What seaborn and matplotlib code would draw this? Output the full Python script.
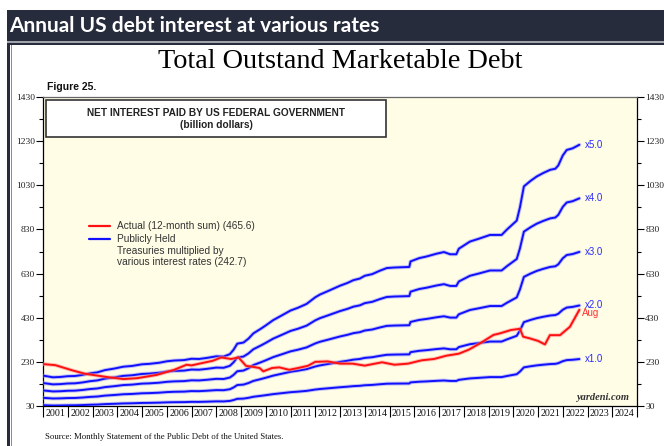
import numpy as np
import pandas as pd
import matplotlib
matplotlib.use("Agg")
import matplotlib.pyplot as plt
import matplotlib.patches as mpatches
import matplotlib.patheffects as pe
import seaborn as sns

# ---------------- data ----------------
base_years = [2001.0, 2001.2, 2001.4, 2001.7, 2002.0, 2002.3, 2002.6, 2002.9, 2003.2, 2003.5,
              2003.9, 2004.24, 2004.6, 2005.0, 2005.3, 2005.7, 2006.0, 2006.3, 2006.7, 2007.0,
              2007.3, 2007.6, 2008.0, 2008.3, 2008.55, 2008.7, 2008.85, 2009.1, 2009.3, 2009.5,
              2009.8, 2010.0, 2010.3, 2010.6, 2011.0, 2011.3, 2011.65, 2012.0, 2012.19, 2012.5,
              2013.0, 2013.3, 2013.54, 2013.8, 2014.0, 2014.3, 2014.6, 2014.89, 2015.2, 2015.8,
              2015.85, 2016.2, 2016.5, 2016.9, 2017.2, 2017.45, 2017.7, 2017.8, 2018.25, 2018.6,
              2019.06, 2019.53, 2019.75, 2020.14, 2020.27, 2020.43, 2020.7, 2020.95, 2021.2, 2021.49,
              2021.7, 2021.82, 2022.0, 2022.16, 2022.4, 2022.67]
base_values = [33.5, 32.8, 32.0, 32.3, 33.0, 33.2, 34.2, 35.6, 36.5, 38.5,
               40.0, 41.6, 42.3, 43.8, 44.2, 45.2, 46.5, 47.2, 47.6, 48.8,
               48.6, 49.5, 51.0, 50.8, 53.0, 57.0, 62.5, 63.5, 67.0, 71.8,
               76.0, 79.0, 83.8, 87.5, 92.5, 95.0, 98.5, 104.5, 107.0, 110.0,
               115.0, 117.5, 120.0, 121.5, 124.0, 125.5, 128.5, 131.0, 131.5, 132.0,
               137.0, 140.0, 141.5, 144.0, 145.5, 143.5, 143.5, 148.5, 155.0, 157.5,
               161.0, 161.0, 166.0, 174.0, 186.0, 205.0, 210.0, 214.0, 217.0, 220.0,
               221.0, 224.0, 233.0, 238.0, 239.5, 242.7]
multipliers = [1.0, 2.0, 3.0, 4.0, 5.0]
multiplier_labels = ["x1.0", "x2.0", "x3.0", "x4.0", "x5.0"]

actual_years = [2001.0, 2001.5, 2002.2, 2002.7, 2003.6, 2004.25, 2004.8, 2005.6, 2006.3, 2006.8,
                2007.0, 2007.86, 2008.2, 2008.6, 2008.9, 2009.2, 2009.45, 2009.75, 2009.9, 2010.25,
                2010.55, 2010.8, 2010.95, 2011.3, 2011.7, 2012.0, 2012.5, 2013.0, 2013.5, 2014.0,
                2014.7, 2015.2, 2015.75, 2016.3, 2016.8, 2017.3, 2017.8, 2018.2, 2018.66, 2019.2,
                2019.46, 2019.9, 2020.27, 2020.4, 2020.68, 2021.0, 2021.28, 2021.48, 2021.89, 2022.29,
                2022.67]
actual_values = [220, 215, 191, 176, 161, 152, 156, 171, 194, 217,
                 214, 235, 250, 243, 250, 212, 208, 202, 187, 202,
                 205, 198, 194, 202, 212, 230, 232, 222, 222, 213,
                 228, 217, 222, 237, 243, 258, 267, 285, 314, 352,
                 359, 374, 380, 344, 336, 325, 309, 351, 351, 389,
                 465.6]

year_ticks = list(range(2001, 2026))
year_labels = [str(y) for y in range(2001, 2025)]
y_ticks = list(range(30, 1431, 200))

# ---------------- frame ----------------
sns.set_theme(style="white")
plt.rcParams['font.family'] = ['Liberation Sans', 'DejaVu Sans']

W, H = 664, 446
fig = plt.figure(figsize=(W / 100, H / 100), dpi=100)
fig.patch.set_facecolor("white")

def fx(px):
    return px / W

def fy(py):
    return 1 - py / H

navy = "#272c3d"
# header band
fig.patches.append(mpatches.Rectangle((fx(7), fy(41)), fx(W - 7), 31 / H, transform=fig.transFigure,
                                      facecolor=navy, edgecolor="none", zorder=0))
fig.patches.append(mpatches.Rectangle((fx(7), fy(43)), fx(W - 7), 2 / H, transform=fig.transFigure,
                                      facecolor="#a0a3aa", edgecolor="none", zorder=0))
fig.patches.append(mpatches.Rectangle((fx(7), fy(44.5)), fx(W - 7), 1.5 / H, transform=fig.transFigure,
                                      facecolor=navy, edgecolor="none", zorder=0))
fig.patches.append(mpatches.Rectangle((fx(7), 0), fx(3.5), fy(43), transform=fig.transFigure,
                                      facecolor=navy, edgecolor="none", zorder=0))
fig.patches.append(mpatches.Rectangle((fx(10.5), 0), fx(1.5), fy(44.5), transform=fig.transFigure,
                                      facecolor="#8a8d96", edgecolor="none", zorder=0))

fig.text(fx(9), fy(25.5), "Annual US debt interest at various rates", color="white",
         fontsize=15, fontweight="bold", family=["Lato", "DejaVu Sans"], va="center", ha="left")

fig.text(fx(340), fy(62), "Total Outstand Marketable Debt", color="black", fontsize=20.3,
         family=["Liberation Serif", "DejaVu Serif"], va="center", ha="center")
fig.text(fx(47), fy(87), "Figure 25.", color="#111111", fontsize=7.5, fontweight="bold",
         va="center", ha="left")
fig.text(fx(45), fy(437), "Source: Monthly Statement of the Public Debt of the United States.",
         color="#111111", fontsize=6.3, family=["Liberation Serif", "DejaVu Serif"], va="center", ha="left")

# ---------------- axes ----------------
ax = fig.add_axes([fx(43), 1 - 406 / H, fx(637 - 43), 309 / H])
ax.set_facecolor("#fffde6")

rows = []
for m, lab in zip(multipliers, multiplier_labels):
    for yr, v in zip(base_years, base_values):
        rows.append({"year": yr, "value": v * m, "series": lab})
df_blue = pd.DataFrame(rows)
df_red = pd.DataFrame({"year": actual_years, "value": actual_values})

glow_blue = [pe.Stroke(linewidth=2.8, foreground="#8a8aff", alpha=0.5), pe.Normal()]
glow_red = [pe.Stroke(linewidth=2.8, foreground="#ff8a8a", alpha=0.5), pe.Normal()]

sns.lineplot(data=df_blue, x="year", y="value", units="series", estimator=None, color="#1010ff",
             linewidth=1.4, ax=ax, legend=False, path_effects=glow_blue, zorder=3)
sns.lineplot(data=df_red, x="year", y="value", color="#ff1010", linewidth=1.4, ax=ax,
             legend=False, path_effects=glow_red, zorder=4)

ax.set_xlim(2001, 2025)
ax.set_ylim(30, 1430)
ax.set_xlabel("")
ax.set_ylabel("")

# y ticks both sides
ax.set_yticks(y_ticks)
ax.set_yticks([v + 100 for v in y_ticks[:-1]], minor=True)
ax.set_yticklabels([str(v) for v in y_ticks], family=["Liberation Serif", "DejaVu Serif"], fontsize=6.8)
ax.tick_params(axis="y", which="major", direction="out", length=5, width=0.8, color="black",
               left=True, right=True, labelleft=True, labelright=True, pad=1, labelcolor="#222222")
ax.tick_params(axis="y", which="minor", direction="out", length=3, width=0.8, color="black",
               left=True, right=True)

# x ticks: boundaries as major ticks, labels centred as minor
ax.set_xticks(year_ticks)
ax.set_xticklabels([])
ax.set_xticks([y + 0.5 for y in range(2001, 2025)], minor=True)
ax.set_xticklabels(year_labels, minor=True, family=["Liberation Serif", "DejaVu Serif"], fontsize=7.2)
ax.tick_params(axis="x", which="major", direction="out", length=8, width=0.8, color="black", bottom=True)
ax.tick_params(axis="x", which="minor", length=0, pad=2, labelcolor="#111111")

for s in ax.spines.values():
    s.set_visible(True)
    s.set_color("black")
    s.set_linewidth(0.9)
ax.spines["top"].set_color("#666666")

# title box
box_x0, box_x1 = 2001 + (46 - 43) / 24.75, 2001 + (386 - 43) / 24.75
yscale = 1400 / 309
box_y1 = 1430 - (100 - 97) * yscale
box_y0 = 1430 - (137 - 97) * yscale
ax.add_patch(mpatches.Rectangle((box_x0, box_y0), box_x1 - box_x0, box_y1 - box_y0,
                                facecolor="white", edgecolor="#333333", linewidth=1.2, zorder=5))
bx = (box_x0 + box_x1) / 2
ax.text(bx, 1430 - (112.5 - 97) * yscale, "NET INTEREST PAID BY US FEDERAL GOVERNMENT",
        ha="center", va="center", fontsize=7.3, fontweight="bold", color="#222222", zorder=6)
ax.text(bx, 1430 - (125.5 - 97) * yscale, "(billion dollars)",
        ha="center", va="center", fontsize=7.3, fontweight="bold", color="#222222", zorder=6)

# legend (manual, like the original)
def yv(py):
    return 1430 - (py - 97) * yscale

def xv(px):
    return 2001 + (px - 43) / 24.75

ax.plot([xv(89), xv(110)], [yv(226), yv(226)], color="#ff1010", linewidth=1.6, zorder=6)
ax.plot([xv(89), xv(110)], [yv(239), yv(239)], color="#1010ff", linewidth=1.6, zorder=6)
leg_kw = dict(ha="left", va="center", fontsize=7.3, color="#333333", zorder=6)
ax.text(xv(117), yv(226), "Actual (12-month sum) (465.6)", **leg_kw)
ax.text(xv(117), yv(239), "Publicly Held", **leg_kw)
ax.text(xv(117), yv(251), "Treasuries multiplied by", **leg_kw)
ax.text(xv(117), yv(262), "various interest rates (242.7)", **leg_kw)

# line end labels
for m, lab in zip(multipliers, multiplier_labels):
    ax.text(xv(585), base_values[-1] * m, lab, ha="left", va="center", fontsize=7,
            color="#2a2aff", zorder=6)
ax.text(xv(582), actual_values[-1] - 14, "Aug", ha="left", va="center", fontsize=7,
        color="#ff3030", zorder=6)

ax.text(xv(629), yv(397), "yardeni.com", ha="right", va="center", fontsize=7.5,
        family=["Liberation Serif", "DejaVu Serif"], style="italic", fontweight="bold",
        color="#333333", zorder=6)

fig.savefig("out.png", dpi=100, facecolor="white")
